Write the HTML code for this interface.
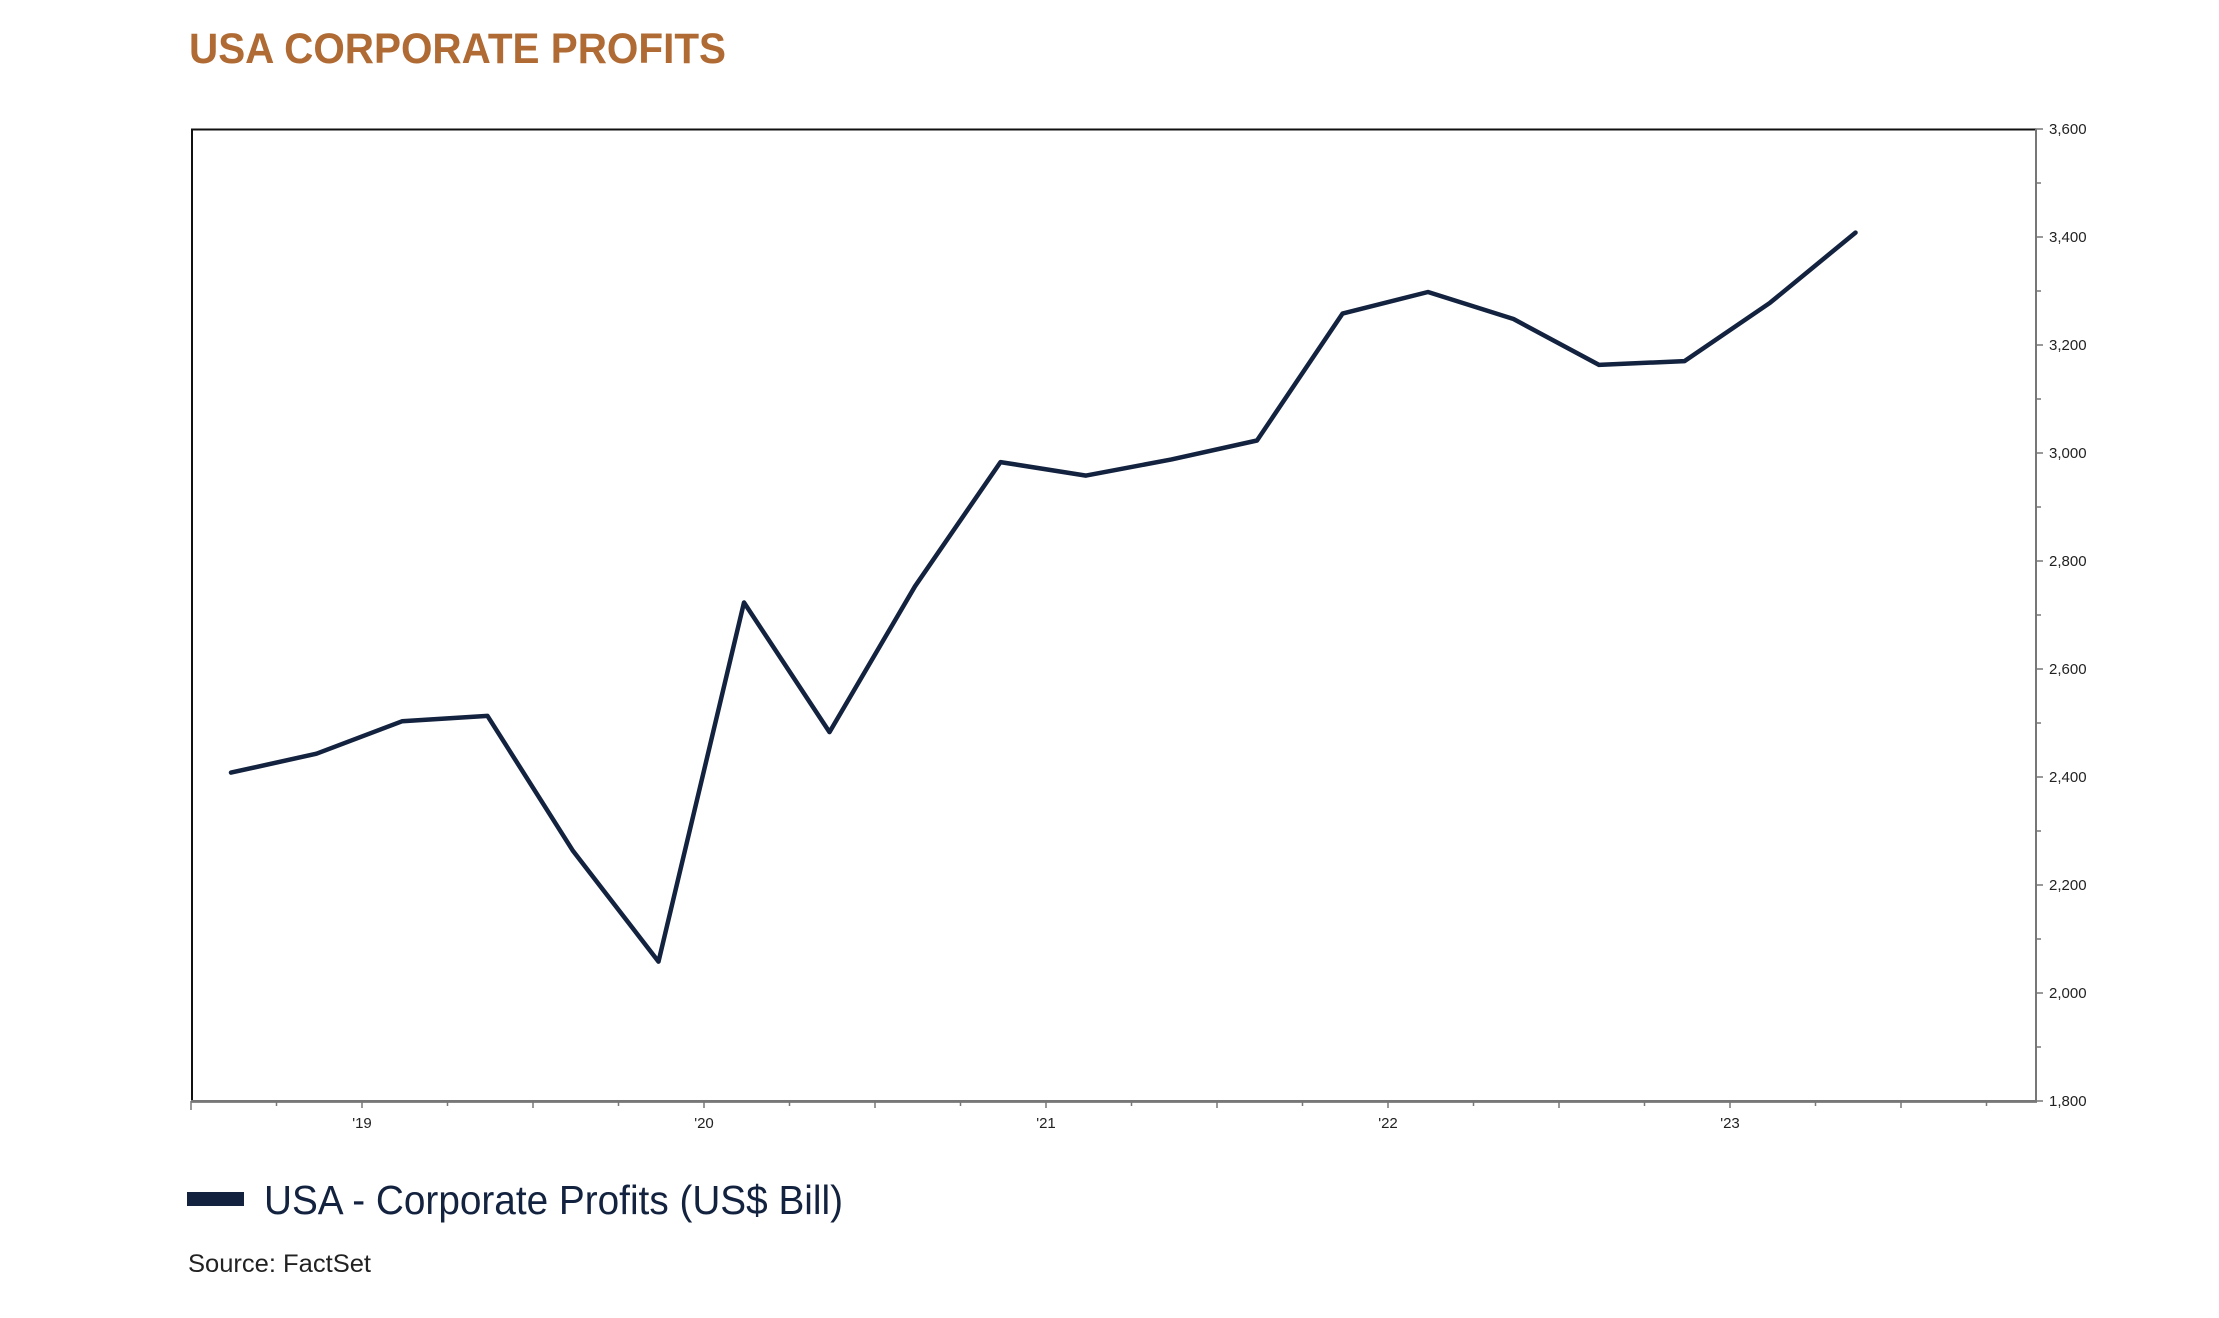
<!DOCTYPE html>
<html><head><meta charset="utf-8"><style>
html,body{margin:0;padding:0;background:#fff;}
svg{display:block;}
</style></head><body>
<svg width="2219" height="1318" xmlns="http://www.w3.org/2000/svg" font-family="'Liberation Sans', sans-serif">
<rect width="2219" height="1318" fill="#fff"/>
<text x="189" y="63" font-size="43" font-weight="bold" fill="#b06a33" textLength="537" lengthAdjust="spacingAndGlyphs">USA CORPORATE PROFITS</text>
<rect x="192" y="129.5" width="1844" height="972" fill="none" stroke="#111" stroke-width="2"/>
<line x1="2036" y1="129" x2="2036" y2="1102" stroke="#777" stroke-width="2"/>
<line x1="191" y1="1101" x2="2036" y2="1101" stroke="#777" stroke-width="2"/>
<g stroke="#777" stroke-width="1.5">
<line x1="2036" y1="129" x2="2043" y2="129"/><line x1="2036" y1="183" x2="2041" y2="183"/>
<line x1="2036" y1="237" x2="2043" y2="237"/><line x1="2036" y1="291" x2="2041" y2="291"/>
<line x1="2036" y1="345" x2="2043" y2="345"/><line x1="2036" y1="399" x2="2041" y2="399"/>
<line x1="2036" y1="453" x2="2043" y2="453"/><line x1="2036" y1="507" x2="2041" y2="507"/>
<line x1="2036" y1="561" x2="2043" y2="561"/><line x1="2036" y1="615" x2="2041" y2="615"/>
<line x1="2036" y1="669" x2="2043" y2="669"/><line x1="2036" y1="723" x2="2041" y2="723"/>
<line x1="2036" y1="777" x2="2043" y2="777"/><line x1="2036" y1="831" x2="2041" y2="831"/>
<line x1="2036" y1="885" x2="2043" y2="885"/><line x1="2036" y1="939" x2="2041" y2="939"/>
<line x1="2036" y1="993" x2="2043" y2="993"/><line x1="2036" y1="1047" x2="2041" y2="1047"/>
<line x1="2036" y1="1101" x2="2043" y2="1101"/>
</g>
<g font-size="15" fill="#222">
<text x="2049" y="134">3,600</text><text x="2049" y="242">3,400</text><text x="2049" y="350">3,200</text>
<text x="2049" y="458">3,000</text><text x="2049" y="566">2,800</text><text x="2049" y="674">2,600</text>
<text x="2049" y="782">2,400</text><text x="2049" y="890">2,200</text><text x="2049" y="998">2,000</text>
<text x="2049" y="1106">1,800</text>
</g>
<g stroke="#777" stroke-width="1.5">
<line x1="191" y1="1101" x2="191" y2="1110"/><line x1="276.5" y1="1101" x2="276.5" y2="1106"/>
<line x1="362" y1="1101" x2="362" y2="1108"/><line x1="447.5" y1="1101" x2="447.5" y2="1106"/>
<line x1="533" y1="1101" x2="533" y2="1108"/><line x1="618.5" y1="1101" x2="618.5" y2="1106"/>
<line x1="704" y1="1101" x2="704" y2="1108"/><line x1="789.5" y1="1101" x2="789.5" y2="1106"/>
<line x1="875" y1="1101" x2="875" y2="1108"/><line x1="960.5" y1="1101" x2="960.5" y2="1106"/>
<line x1="1046" y1="1101" x2="1046" y2="1108"/><line x1="1131.5" y1="1101" x2="1131.5" y2="1106"/>
<line x1="1217" y1="1101" x2="1217" y2="1108"/><line x1="1302.5" y1="1101" x2="1302.5" y2="1106"/>
<line x1="1388" y1="1101" x2="1388" y2="1108"/><line x1="1473.5" y1="1101" x2="1473.5" y2="1106"/>
<line x1="1559" y1="1101" x2="1559" y2="1108"/><line x1="1644.5" y1="1101" x2="1644.5" y2="1106"/>
<line x1="1730" y1="1101" x2="1730" y2="1108"/><line x1="1815.5" y1="1101" x2="1815.5" y2="1106"/>
<line x1="1901" y1="1101" x2="1901" y2="1108"/><line x1="1986.5" y1="1101" x2="1986.5" y2="1106"/>
</g>
<g font-size="15" fill="#222" text-anchor="middle">
<text x="362" y="1128">'19</text><text x="704" y="1128">'20</text><text x="1046" y="1128">'21</text>
<text x="1388" y="1128">'22</text><text x="1730" y="1128">'23</text>
</g>
<polyline fill="none" stroke="#13223f" stroke-width="4.5" stroke-linejoin="round" stroke-linecap="round"
points="231,772.6 316.5,753.7 402,721.3 487.5,715.9 573,850.9 658.5,961.6 744,602.5 829.5,732.1 915,586.3 1000.5,462.1 1086,475.6 1171.5,459.4 1257,440.5 1342.5,313.6 1428,292 1513.5,319 1599,364.9 1684.5,361.1 1770,302.8 1855.5,232.6"/>
<rect x="187" y="1192" width="57" height="14" fill="#13223f"/>
<text x="264" y="1214" font-size="41" fill="#13223f" textLength="579" lengthAdjust="spacingAndGlyphs">USA - Corporate Profits (US$ Bill)</text>
<text x="188" y="1272" font-size="25" fill="#222" textLength="183" lengthAdjust="spacingAndGlyphs">Source: FactSet</text>
</svg>
</body></html>
